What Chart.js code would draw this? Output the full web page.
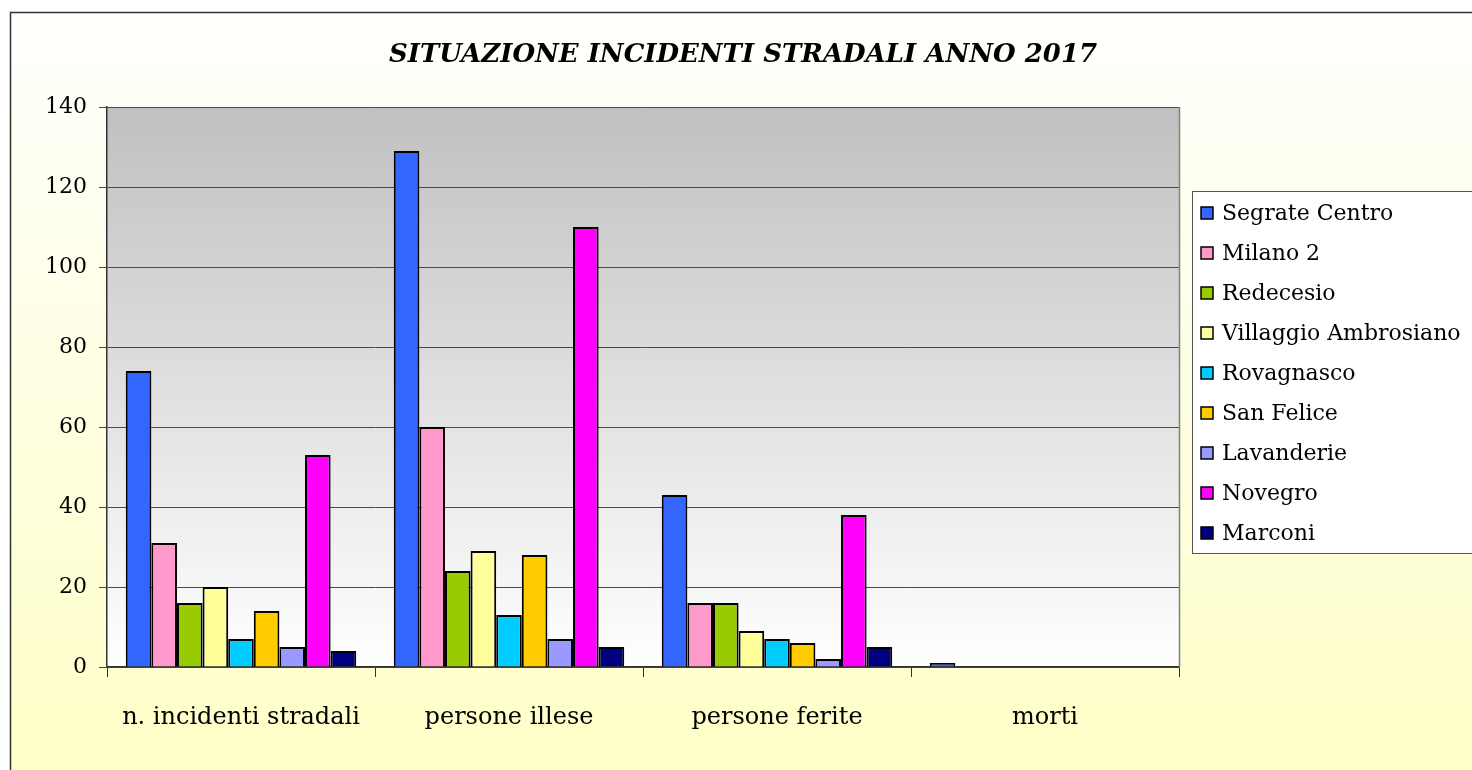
<!DOCTYPE html>
<html lang="it">
<head>
  <meta charset="UTF-8" />
  <title>Situazione incidenti stradali anno 2017</title>
  <script src="https://cdn.jsdelivr.net/npm/chart.js"></script>
  <style>
    html, body { margin: 0; padding: 0; background: #ffffff; }
    #wrap { width: 1472px; height: 770px; }
  </style>
</head>
<body>
  <div id="wrap"><canvas id="grafico" width="1472" height="770"></canvas></div>

  <script>
    // categorie sull'asse x
    const categorie = ['n. incidenti stradali', 'persone illese', 'persone ferite', 'morti'];

    // una serie per zona
    const zone = ['Segrate Centro', 'Milano 2', 'Redecesio', 'Villaggio Ambrosiano',
                  'Rovagnasco', 'San Felice', 'Lavanderie', 'Novegro', 'Marconi'];
    const colori = ['#3366FF', '#FF99CC', '#99CC00', '#FFFF99',
                    '#00CCFF', '#FFCC00', '#9999FF', '#FF00FF', '#000080'];

    const segrateCentro = [74, 129, 43, 1];
    const milano2       = [31, 60, 16, 0];
    const redecesio     = [16, 24, 16, 0];
    const villaggio     = [20, 29, 9, 0];
    const rovagnasco    = [7, 13, 7, 0];
    const sanFelice     = [14, 28, 6, 0];
    const lavanderie    = [5, 7, 2, 0];
    const novegro       = [53, 110, 38, 0];
    const marconi       = [4, 5, 5, 0];

    const valori = [segrateCentro, milano2, redecesio, villaggio, rovagnasco,
                    sanFelice, lavanderie, novegro, marconi];

    const tickY = [0, 20, 40, 60, 80, 100, 120, 140];

    const titolo = 'SITUAZIONE INCIDENTI STRADALI ANNO 2017';

    const SERIF = '"DejaVu Serif", "Liberation Serif", serif';

    // sfondo generale + area del grafico con sfumatura
    const sfondo = {
      id: 'sfondo',
      beforeDraw(chart) {
        const c = chart.ctx;
        const a = chart.chartArea;
        c.save();
        c.fillStyle = '#ffffff';
        c.fillRect(0, 0, chart.width, chart.height);
        let g = c.createLinearGradient(0, 12, 0, chart.height);
        g.addColorStop(0, '#FFFFFE');
        g.addColorStop(1, '#FFFFC8');
        c.fillStyle = g;
        c.fillRect(10, 12, chart.width, chart.height);
        c.strokeStyle = '#333333';
        c.lineWidth = 1.5;
        c.strokeRect(10.5, 12.5, chart.width + 10, chart.height + 10);

        g = c.createLinearGradient(0, a.top, 0, a.bottom);
        g.addColorStop(0, '#C0C0C0');
        g.addColorStop(1, '#FFFFFF');
        c.fillStyle = g;
        c.fillRect(a.left, a.top, a.right - a.left, a.bottom - a.top);

        // titolo
        c.fillStyle = '#000000';
        c.font = 'italic bold 26px ' + SERIF;
        c.textAlign = 'center';
        c.textBaseline = 'middle';
        c.fillText(titolo, 743, 55);
        c.restore();
      },
      afterDatasetsDraw(chart) {
        const c = chart.ctx;
        const a = chart.chartArea;
        c.save();
        c.strokeStyle = '#808080';
        c.lineWidth = 1.5;
        c.beginPath();
        c.moveTo(a.right + 0.5, a.top);
        c.lineTo(a.right + 0.5, a.bottom);
        c.stroke();
        c.restore();
      }
    };

    // legenda con cornice a destra
    const legenda = {
      id: 'legenda',
      afterDraw(chart) {
        const c = chart.ctx;
        const x0 = 1192, y0 = 191;
        c.save();
        c.fillStyle = '#ffffff';
        c.fillRect(x0, y0, 300, 362);
        c.strokeStyle = '#555555';
        c.lineWidth = 1;
        c.strokeRect(x0 + 0.5, y0 + 0.5, 300, 362);
        c.font = '22px ' + SERIF;
        c.textBaseline = 'middle';
        chart.data.datasets.forEach((ds, i) => {
          const y = 213 + i * 40;
          c.fillStyle = ds.backgroundColor;
          c.fillRect(1201, y - 6, 12, 12);
          c.strokeStyle = '#000000';
          c.lineWidth = 1.5;
          c.strokeRect(1201, y - 6, 12, 12);
          c.fillStyle = '#000000';
          c.fillText(ds.label, 1222, y + 1);
        });
        c.restore();
      }
    };

    const ctx = document.getElementById('grafico').getContext('2d');
    new Chart(ctx, {
      type: 'bar',
      data: {
        labels: categorie,
        datasets: zone.map((nome, i) => ({
          label: nome,
          data: valori[i],
          backgroundColor: colori[i],
          borderColor: '#000000',
          borderWidth: 2,
          categoryPercentage: 0.86,
          barPercentage: 1
        }))
      },
      options: {
        responsive: false,
        animation: false,
        layout: { padding: { left: 0, right: 293, top: 107, bottom: 0 } },
        plugins: {
          legend: { display: false },
          tooltip: { enabled: false },
          title: { display: false }
        },
        scales: {
          x: {
            grid: {
              offset: true,
              drawOnChartArea: false,
              drawTicks: true,
              tickLength: 10,
              color: '#333333',
              lineWidth: 1
            },
            border: { display: true, color: '#333333', width: 1.5 },
            ticks: {
              color: '#000000',
              padding: 26,
              maxRotation: 0,
              font: { family: SERIF, size: 24 }
            },
            afterFit(scale) { scale.height = 103; }
          },
          y: {
            min: 0,
            max: 140,
            afterBuildTicks(scale) { scale.ticks = tickY.map(v => ({ value: v })); },
            grid: {
              color: '#4a4a4a',
              lineWidth: 1,
              drawTicks: true,
              tickLength: 8
            },
            border: { display: true, color: '#333333', width: 1.5 },
            ticks: {
              color: '#000000',
              padding: 12,
              font: { family: SERIF, size: 22 }
            },
            afterFit(scale) { scale.width = 107; }
          }
        }
      },
      plugins: [sfondo, legenda]
    });
  </script>
</body>
</html>
